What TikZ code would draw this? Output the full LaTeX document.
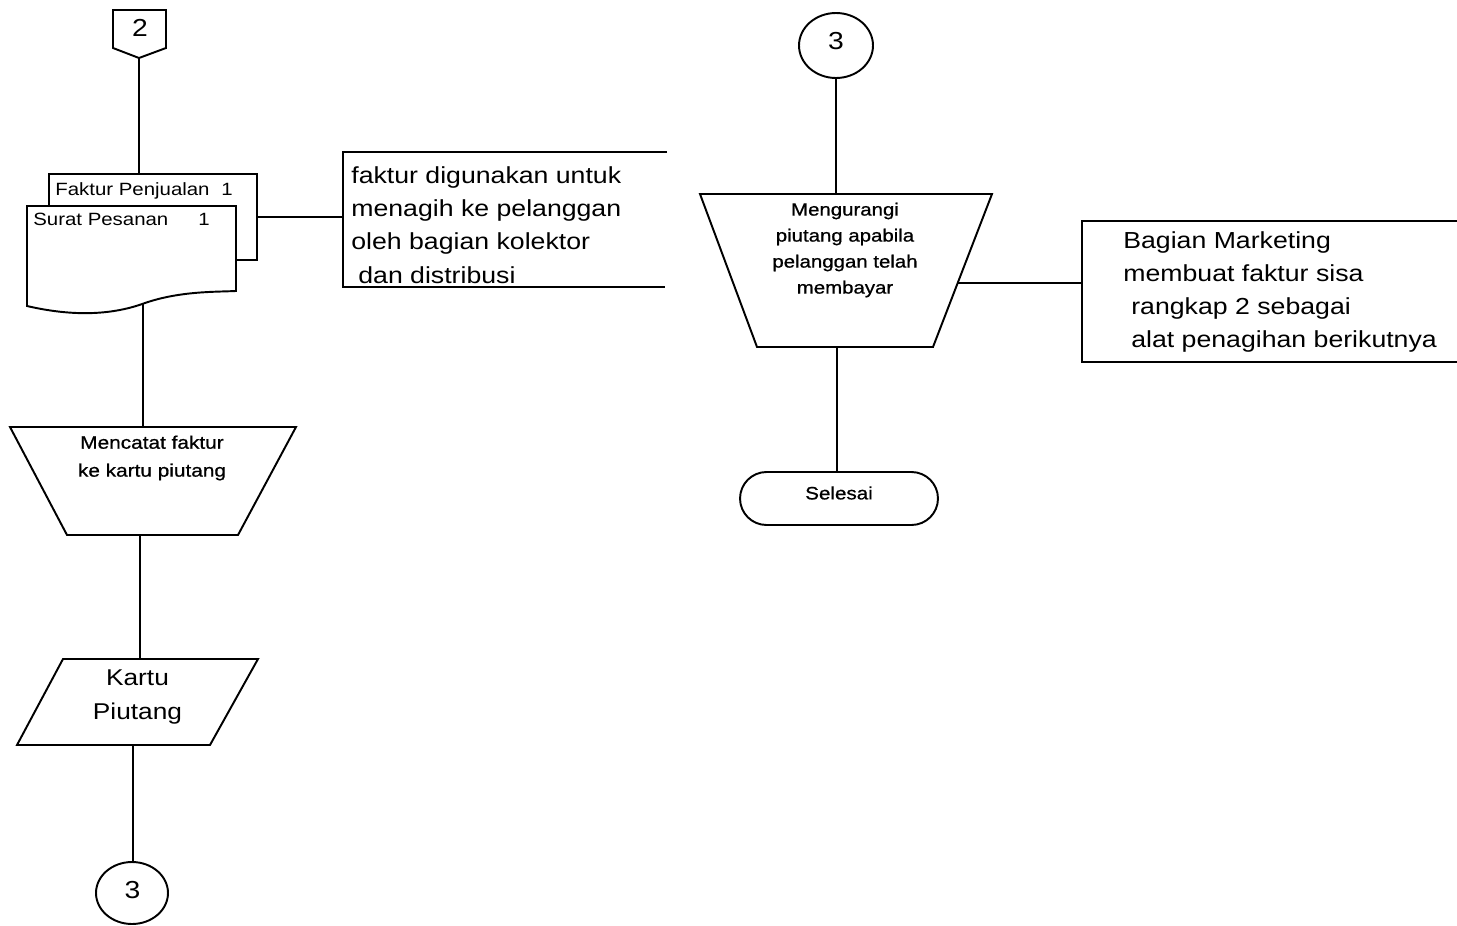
\documentclass[tikz,border=0pt]{standalone}
\usepackage{fontspec}
\setmainfont{Liberation Sans}[FakeStretch=1.15]
\newfontfamily\smallfam{Liberation Sans}[FakeStretch=1.15,FakeBold=0.8]
\usetikzlibrary{shapes.geometric}
\begin{document}
\begin{tikzpicture}[x=0.02cm,y=-0.02cm,
  shp/.style={draw=black,line width=1.1pt,fill=white,line join=miter},
  brk/.style={draw=black,line width=1.1pt},
  conn/.style={draw=black,line width=0.9pt},
  bigtxt/.style={font=\fontsize{13.2}{18.95}\selectfont,inner sep=0pt,align=left},
  kptxt/.style={font=\fontsize{13}{18.8}\selectfont,inner sep=0pt,align=center},
  smtxt/.style={font=\smallfam\fontsize{10.1}{14.8}\selectfont,inner sep=0pt,align=center},
  mctxt/.style={font=\smallfam\fontsize{10.3}{15.9}\selectfont,inner sep=0pt,align=center},
  doctxt/.style={font=\fontsize{10.1}{12}\selectfont,inner sep=0pt},
  numtxt/.style={font=\fontsize{14}{16}\selectfont,inner sep=0pt},
  seltxt/.style={font=\smallfam\fontsize{10.2}{12}\selectfont,inner sep=0pt},
]
\fill[white] (0,0) rectangle (1457,926);
\useasboundingbox (0,0) rectangle (1457,926);

% off-page connector 2
\draw[shp] (113,10) -- (166,10) -- (166,48) -- (139,58) -- (113,48) -- cycle;
\node[numtxt] (n2) at (140,28) {2};
\coordinate (p2) at (139,58);

% documents
\draw[shp] (49,174) rectangle (257,260);
\node[doctxt,anchor=base west] (fpj) at (55,195) {Faktur Penjualan};
\node[doctxt,anchor=base] (fpj1) at (227,195) {1};
\draw[shp] (27,206) -- (236,206) -- (236,291) .. controls (215,292) and (180,291) .. (145,303) .. controls (110,316) and (70,316) .. (27,306) -- cycle;
\node[doctxt,anchor=base west] (sp) at (33,225) {Surat Pesanan};
\node[doctxt,anchor=base] (sp1) at (204,225) {1};
\coordinate (docTop) at (139,174);
\coordinate (docRight) at (257,217);
\coordinate (docBot) at (143,304);

% annotation 1
\draw[brk] (667,152) -- (343,152) -- (343,287) -- (665,287);
\coordinate (an1) at (343,217);
\node[bigtxt,anchor=west] (an1txt) at (351,225) {faktur digunakan untuk\\menagih ke pelanggan\\oleh bagian kolektor\\\hspace*{0.14cm}dan distribusi};

% trapezoid 1
\draw[shp] (10,427) -- (296,427) -- (238,535) -- (67,535) -- cycle;
\node[mctxt] (t1txt) at (152,458) {Mencatat faktur\\ke kartu piutang};
\coordinate (t1top) at (143,427);
\coordinate (t1bot) at (140,535);

% parallelogram Kartu Piutang
\draw[shp] (63,659) -- (258,659) -- (210,745) -- (17,745) -- cycle;
\node[kptxt] (kptxt) at (137.5,697) {Kartu\\Piutang};
\coordinate (kpTop) at (140,659);
\coordinate (kpBot) at (133,745);

% connector 3 bottom
\node[ellipse,draw,line width=1.1pt,fill=white,minimum width=1.44cm,minimum height=1.24cm,inner sep=0pt] (c3bot) at (132,893) {};
\node[numtxt] (c3botlbl) at (132.5,890) {3};

% connector 3 top
\node[ellipse,draw,line width=1.1pt,fill=white,minimum width=1.48cm,minimum height=1.3cm,inner sep=0pt] (c3top) at (836,45.5) {};
\node[numtxt] (c3toplbl) at (836,41) {3};

% trapezoid 2
\draw[shp] (700,194) -- (992,194) -- (933,347) -- (757,347) -- cycle;
\node[smtxt] (t2txt) at (845,250) {Mengurangi\\piutang apabila\\pelanggan telah\\membayar};
\coordinate (t2top) at (834,194);
\coordinate (t2bot) at (837,347);
\coordinate (t2right) at (958,283);

% annotation 2
\draw[brk] (1457,221) -- (1082,221) -- (1082,362) -- (1457,362);
\coordinate (an2) at (1082,283);
\node[bigtxt,anchor=west] (an2txt) at (1123,292) {Bagian Marketing\\membuat faktur sisa\\\hspace*{0.16cm}rangkap 2 sebagai\\\hspace*{0.16cm}alat penagihan berikutnya};

% terminal
\node[draw,line width=1.1pt,fill=white,rounded corners=0.53cm,minimum width=3.96cm,minimum height=1.06cm,inner sep=0pt] (sel) at (839,498.5) {};
\node[seltxt] (seltxt) at (839,493) {Selesai};

% connectors
\draw[conn] (p2) -- (docTop);
\draw[conn] (docRight) -- (an1);
\draw[conn] (docBot) -- (t1top);
\draw[conn] (t1bot) -- (kpTop);
\draw[conn] (kpBot) -- (kpBot |- c3bot.north);
\draw[conn] (c3top.south) -- (c3top.south |- t2top);
\draw[conn] (t2bot) -- (t2bot |- sel.north);
\draw[conn] (t2right) -- (an2);
\end{tikzpicture}
\end{document}
